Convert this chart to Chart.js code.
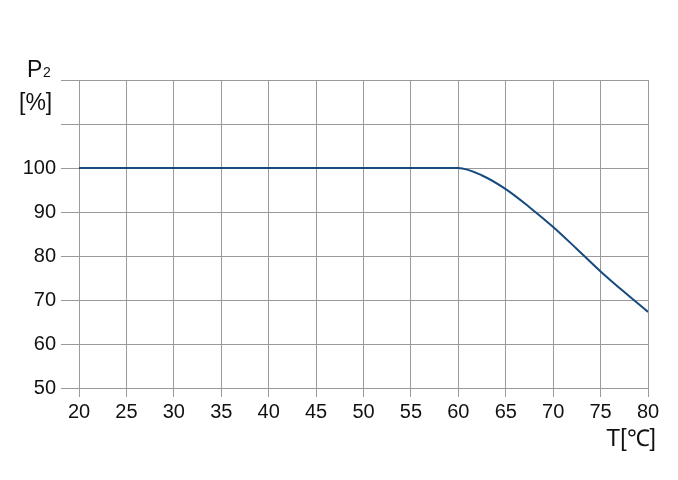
<!DOCTYPE html>
<html>
<head>
<meta charset="utf-8">
<script src="https://cdn.jsdelivr.net/npm/chart.js@4/dist/chart.umd.min.js"></script>
<style>
  body { margin: 0; background: #fff; }
  canvas { display: block; }
</style>
</head>
<body>
<canvas id="myChart" width="678" height="480"></canvas>
<script>
// derating curve
const tempValues = [20, 60, 62.5, 65, 67.5, 70, 72.5, 75, 77.5, 80];
const powerValues = [100, 100, 98.3, 95.2, 91.1, 86.6, 81.6, 76.5, 71.8, 67.3];
const hiddenYTicks = [110, 120];

const clrLine = '#174a7e';
const clrGrid = '#9a9a9a';
const fontFamily = '"Liberation Sans", Arial, sans-serif';

const axisTitles = {
	id: 'axisTitles',
	afterDraw(chart) {
		const ctx = chart.ctx;
		const area = chart.chartArea;
		ctx.save();
		ctx.fillStyle = '#111';
		ctx.textBaseline = 'alphabetic';
		ctx.textAlign = 'left';
		ctx.font = '23px ' + fontFamily;
		ctx.fillText('P', area.left - 52, area.top - 3);
		ctx.font = '14px ' + fontFamily;
		ctx.fillText('2', area.left - 36, area.top - 3);
		ctx.font = '23px ' + fontFamily;
		ctx.fillText('[%]', area.left - 60, area.top + 30);
		ctx.textAlign = 'right';
		ctx.fillText('T[℃]', area.right + 8, area.bottom + 58);
		ctx.restore();
	}
};

let chart = new Chart('myChart', {
	type: 'line',
	data: {
		datasets: [{
			label: 'P2',
			data: tempValues.map((t, i) => ({ x: t, y: powerValues[i] })),
			borderColor: clrLine,
			borderWidth: 2,
			fill: false,
			cubicInterpolationMode: 'monotone',
			pointRadius: 0
		}]
	},
	options: {
		responsive: false,
		animation: false,
		layout: {
			padding: { left: 0, top: 80, right: 30, bottom: 0 }
		},
		scales: {
			x: {
				type: 'linear',
				min: 20,
				max: 80,
				ticks: {
					stepSize: 5,
					color: '#111',
					padding: 3,
					font: { family: fontFamily, size: 20 }
				},
				grid: { color: clrGrid, lineWidth: 1, tickLength: 9 },
				border: { color: clrGrid },
				afterFit(s) { s.height = 92; }
			},
			y: {
				min: 50,
				max: 120,
				ticks: {
					stepSize: 10,
					color: '#111',
					padding: 5,
					font: { family: fontFamily, size: 20 },
					callback: (v) => hiddenYTicks.includes(v) ? '' : v
				},
				grid: { color: clrGrid, lineWidth: 1, tickLength: 18 },
				border: { color: clrGrid },
				afterFit(s) { s.width = 79; }
			}
		},
		plugins: {
			legend: { display: false },
			tooltip: { enabled: false },
			title: { display: false }
		}
	},
	plugins: [axisTitles]
});
</script>
</body>
</html>
